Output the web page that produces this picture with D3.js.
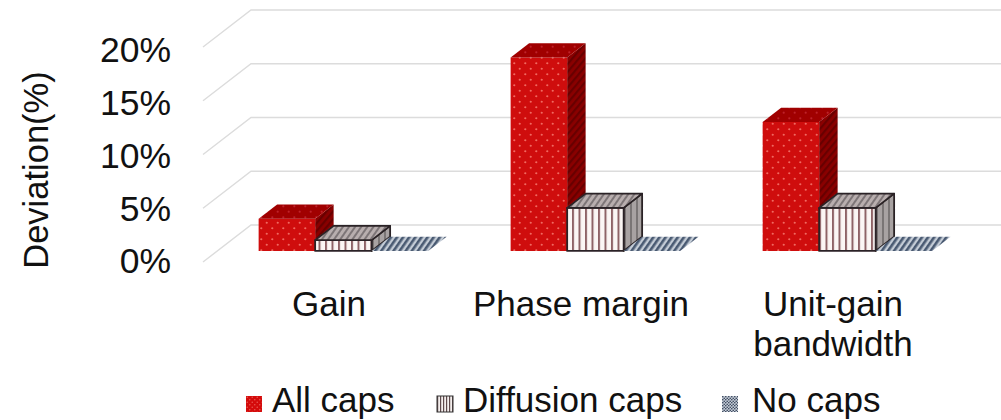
<!DOCTYPE html>
<html>
<head>
<meta charset="utf-8">
<script src="https://cdnjs.cloudflare.com/ajax/libs/d3/7.8.5/d3.min.js"></script>
<style>
html, body { margin: 0; padding: 0; background: #fff; }
svg { display: block; }
text { font-family: "Liberation Sans", Arial, sans-serif; fill: #111; }
</style>
</head>
<body>
<script>
const categories = ["Gain", "Phase margin", "Unit-gain bandwidth"];
const categoryLines = [["Gain"], ["Phase margin"], ["Unit-gain", "bandwidth"]];
const seriesNames = ["All caps", "Diffusion caps", "No caps"];
const allCaps = [3, 18, 12];
const diffusionCaps = [1, 4, 4];
const noCaps = [0, 0, 0];
const yTicks = [0, 5, 10, 15, 20];

const width = 1001, height = 420;
const svg = d3.select("body").append("svg").attr("width", width).attr("height", height);
const defs = svg.append("defs");

defs.append("filter").attr("id", "soft").append("feGaussianBlur").attr("stdDeviation", 0.45);

function stripes(id, size, bg, fg, w, angle) {
    const p = defs.append("pattern").attr("id", id).attr("patternUnits", "userSpaceOnUse")
        .attr("width", size).attr("height", size)
        .attr("patternTransform", "rotate(" + angle + ")");
    p.append("rect").attr("width", size).attr("height", size).attr("fill", bg);
    p.append("rect").attr("width", w).attr("height", size).attr("fill", fg);
}
function dots(id, size, bg, fg, r) {
    const p = defs.append("pattern").attr("id", id).attr("patternUnits", "userSpaceOnUse")
        .attr("width", size).attr("height", size);
    p.append("rect").attr("width", size).attr("height", size).attr("fill", bg);
    p.append("circle").attr("cx", size / 4).attr("cy", size / 4).attr("r", r).attr("fill", fg);
    p.append("circle").attr("cx", size * 3 / 4).attr("cy", size * 3 / 4).attr("r", r).attr("fill", fg);
}
dots("redFront", 11, "#cf0a0c", "#f06a60", 1.1);
dots("redTop", 11, "#a00406", "#c02426", 1);
stripes("redSide", 5, "#8a0505", "#680406", 2.2, 40);
stripes("diffFront", 6.5, "#fbf6f4", "#8e6466", 2, 0);
stripes("diffTop", 5, "#b8aeae", "#7d7577", 2, 35);
stripes("diffSide", 6, "#a8a2a2", "#7a7474", 2, 0);
stripes("noTop", 5, "#c4ccd6", "#4a5a72", 2.6, 35);
dots("redLegend", 5, "#d40b0b", "#e9534e", 0.8);
stripes("diffLegend", 3, "#f5efee", "#5e4a4c", 1.2, 0);
dots("noLegend", 3, "#c4ccd6", "#39465c", 0.8);

// front plane of the floor, the depth goes up and to the right
const x0 = d3.scaleBand().domain(categories).range([203, 959]);
const x1 = d3.scaleBand().domain(seriesNames).range([0, 169.5]);
const y = d3.scaleLinear().domain([0, 20]).range([262, 47]);
const yLabel = d3.scaleLinear().domain([0, 20]).range([264, 53]);
const depthX = d3.scaleLinear().domain([0, 1]).range([0, 48]);
const depthY = d3.scaleLinear().domain([0, 1]).range([0, -37]);
const zFront = 0.3, zBack = 0.685;

function pt(x, v, z) {
    return [x + depthX(z), y(v) + depthY(z)];
}
const line = d3.line();

// gridlines: wall plus the diagonal on the side wall
const grid = svg.append("g").attr("fill", "none").attr("stroke", "#dcdcdc").attr("stroke-width", 1.4);
grid.selectAll("path").data(yTicks).enter().append("path")
    .attr("d", d => line([pt(203, d, 0), pt(203, d, 1), [width, y(d) + depthY(1)]]));

const series = [
    { name: seriesNames[0], values: allCaps, front: "url(#redFront)", top: "url(#redTop)", side: "url(#redSide)", stroke: "none" },
    { name: seriesNames[1], values: diffusionCaps, front: "url(#diffFront)", top: "url(#diffTop)", side: "url(#diffSide)", stroke: "#2b2326" },
    { name: seriesNames[2], values: noCaps, front: "none", top: "url(#noTop)", side: "none", stroke: "none" }
];

const bars = svg.append("g").attr("filter", "url(#soft)");
series.forEach(s => {
    categories.forEach((c, i) => {
        const xa = x0(c) + (x0.bandwidth() - x1.range()[1]) / 2 + x1(s.name);
        const xb = xa + x1.bandwidth();
        const v = s.values[i];
        const g = bars.append("g").attr("stroke", s.stroke).attr("stroke-width", 1.8).attr("stroke-linejoin", "round");
        if (v > 0) {
            g.append("path").attr("fill", s.side)
                .attr("d", line([pt(xb, 0, zFront), pt(xb, 0, zBack), pt(xb, v, zBack), pt(xb, v, zFront)]) + "Z");
            g.append("path").attr("fill", s.front)
                .attr("d", line([pt(xa, 0, zFront), pt(xb, 0, zFront), pt(xb, v, zFront), pt(xa, v, zFront)]) + "Z");
        }
        g.append("path").attr("fill", s.top)
            .attr("d", line([pt(xa, v, zFront), pt(xb, v, zFront), pt(xb, v, zBack), pt(xa, v, zBack)]) + "Z");
    });
});

// y axis labels
svg.append("g").selectAll("text").data(yTicks).enter().append("text")
    .attr("x", 171).attr("y", d => yLabel(d))
    .attr("text-anchor", "end").attr("font-size", 35.5)
    .attr("dominant-baseline", "middle")
    .text(d => d + "%");

svg.append("text")
    .attr("transform", "translate(48,170) rotate(-90)")
    .attr("text-anchor", "middle").attr("font-size", 34.5)
    .text("Deviation(%)");

// category labels
categories.forEach((c, i) => {
    const cx = x0(c) + x0.bandwidth() / 2;
    const t = svg.append("text").attr("text-anchor", "middle").attr("font-size", 35);
    categoryLines[i].forEach((l, k) => {
        t.append("tspan").attr("x", cx).attr("y", 316 + k * 40).text(l);
    });
});

// legend
const legendX = [246, 437, 722];
const legendFill = ["url(#redLegend)", "url(#diffLegend)", "url(#noLegend)"];
const legend = svg.append("g").selectAll("g").data(seriesNames).enter().append("g")
    .attr("transform", (d, i) => "translate(" + legendX[i] + ",396)");
legend.append("rect").attr("width", 16).attr("height", 16)
    .attr("fill", (d, i) => legendFill[i])
    .attr("stroke", (d, i) => i === 1 ? "#333" : "none");
legend.append("text").attr("x", (d, i) => i === 2 ? 30 : 26).attr("y", 16).attr("font-size", 35).text(d => d);
</script>
</body>
</html>
